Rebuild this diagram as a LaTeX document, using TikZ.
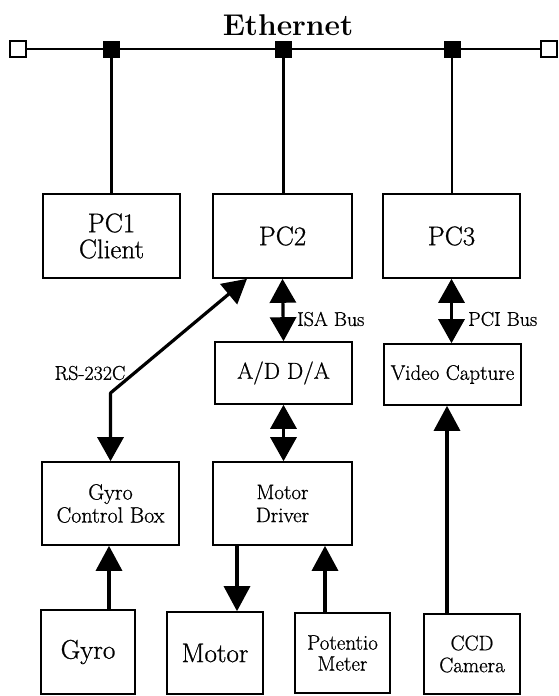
\documentclass[tikz,border=0pt]{standalone}
\usepackage{fontspec}
\setmainfont{Latin Modern Roman}
\newfontfamily\heavyrm{Latin Modern Roman}[FakeBold=0.8]
\usetikzlibrary{arrows.meta}
\begin{document}
\begin{tikzpicture}[x=1pt,y=-1pt,
  box/.style={draw, line width=1.6pt, inner sep=0pt, align=center},
  bigtxt/.style={font=\heavyrm\fontsize{27}{26}\selectfont},
  midtxt/.style={font=\heavyrm\fontsize{21}{23}\selectfont},
  lbl/.style={font=\heavyrm\fontsize{20}{22}\selectfont, inner sep=0pt},
  conn/.style={line width=3.2pt},
  arr/.style={conn, -{Triangle[width=26pt,length=25pt]}},
  darr/.style={conn, {Triangle[width=26pt,length=24pt]}-{Triangle[width=26pt,length=24pt]}},
  endsq/.style={draw, fill=white, line width=1.4pt, minimum size=16pt, inner sep=0pt},
  tapsq/.style={fill=black, minimum size=17pt, inner sep=0pt}]
\useasboundingbox (0,0) rectangle (558,696);
\fill[white] (0,0) rectangle (558,696);

% title
\node[font=\bfseries\fontsize{30}{32}\selectfont, inner sep=0pt] (eth) at (288,25) {Ethernet};

% PCs
\node[box, bigtxt, minimum width=137pt, minimum height=84pt] (pc1) at (111.5,236) {PC1\\Client};
\node[box, bigtxt, minimum width=139pt, minimum height=84pt] (pc2) at (282.5,236) {PC2};
\node[box, bigtxt, minimum width=137pt, minimum height=84pt] (pc3) at (451.5,236) {PC3};

% middle row
\node[box, font=\heavyrm\fontsize{23}{25}\selectfont, minimum width=137pt, minimum height=62pt] (ad) at (283.5,373) {A/D D/A};
\node[box, midtxt, minimum width=137pt, minimum height=61pt] (vc) at (452.5,374.5) {Video Capture};

% lower row
\node[box, font=\heavyrm\fontsize{22}{23}\selectfont, minimum width=137pt, minimum height=83pt] (gcb) at (110.5,503.5) {Gyro\\Control Box};
\node[box, font=\heavyrm\fontsize{21}{23}\selectfont, minimum width=139pt, minimum height=83pt] (md) at (282.5,503.5) {Motor\\Driver};

% bottom row
\node[box, bigtxt, minimum width=94pt, minimum height=84pt] (gyro) at (88,652) {Gyro};
\node[box, bigtxt, minimum width=96pt, minimum height=82pt] (motor) at (215,653) {Motor};
\node[box, font=\heavyrm\fontsize{21}{21}\selectfont, minimum width=95pt, minimum height=80pt] (pot) at (342.5,653) {Potentio\\Meter};
\node[box, font=\heavyrm\fontsize{21}{22}\selectfont, minimum width=96pt, minimum height=80pt] (ccd) at (472,654) {CCD\\Camera};

% Ethernet bus
\node[endsq] (le) at (18,49) {};
\node[endsq] (re) at (549,49) {};
\draw[line width=2.6pt] (le.east) -- (re.west);
\node[tapsq] (t1) at (111.5,49) {};
\node[tapsq] (t2) at (283.5,49) {};
\node[tapsq] (t3) at (452,49) {};
\draw[line width=2.6pt] (t1.south) -- (t1.south |- pc1.north);
\draw[line width=2.6pt] (t2.south) -- (t2.south |- pc2.north);
\draw[line width=2.6pt] (t3.south) -- (t3.south |- pc3.north);

% helper x positions
\coordinate (rsx) at (247,0);
\coordinate (rsk) at (111,393);
\coordinate (gx) at (109,0);
\coordinate (mx) at (237,0);
\coordinate (px) at (325,0);
\coordinate (cx) at (447,0);

% buses
\draw[darr] (pc2.south) -- (ad.north);
\node[lbl, anchor=west] (isa) at (297,319) {ISA Bus};
\draw[darr] (pc3.south) -- (pc3.south |- vc.north);
\node[lbl, anchor=west] (pci) at (468,319) {PCI Bus};
\draw[darr, line join=round] (gcb.north) -- (gcb.north |- rsk) -- (pc2.south -| rsx);
\node[lbl] (rs) at (90,373) {RS-232C};
\draw[darr] (ad.south) -- (ad.south |- md.north);

% signals
\draw[arr] (gyro.north -| gx) -- (gcb.south -| gx);
\draw[arr] (md.south -| mx) -- (motor.north -| mx);
\draw[arr] (pot.north -| px) -- (md.south -| px);
\draw[arr] (ccd.north -| cx) -- (vc.south -| cx);
\end{tikzpicture}
\end{document}
